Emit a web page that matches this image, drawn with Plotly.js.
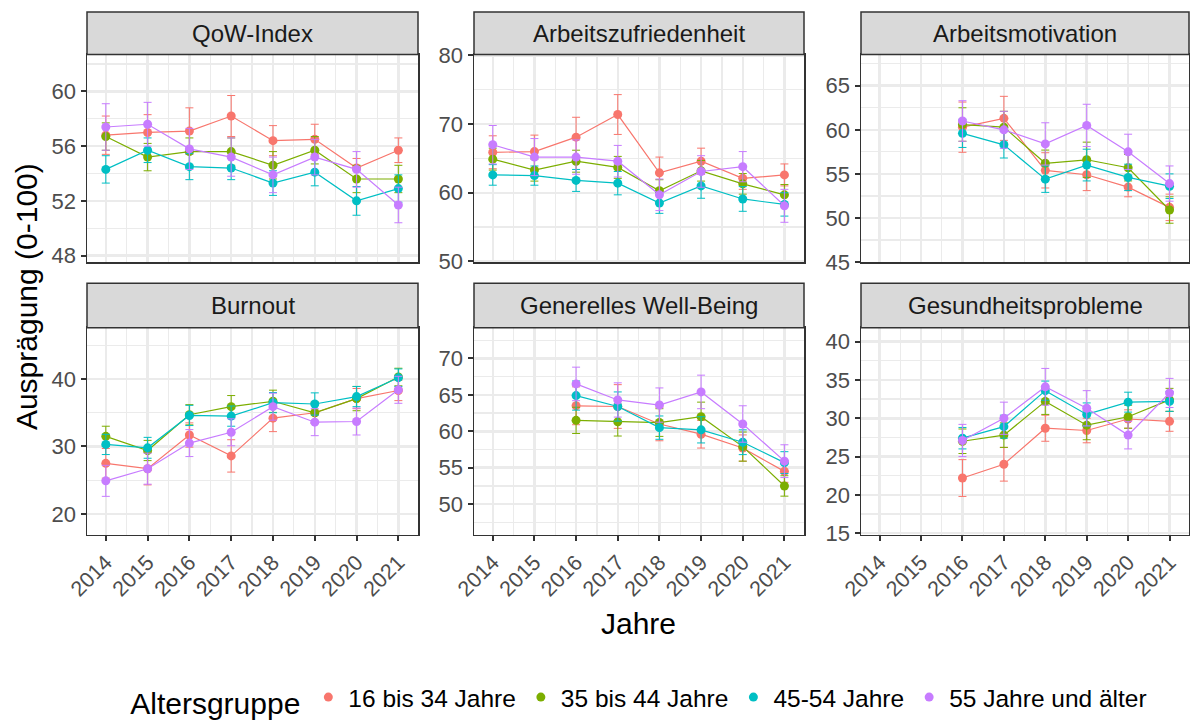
<!DOCTYPE html>
<html>
<head>
<meta charset="utf-8">
<script src="https://cdn.plot.ly/plotly-3.0.1.min.js"></script>
<style>html,body{margin:0;padding:0;background:#fff;}#chart{width:1190px;height:724px;}</style>
</head>
<body>
<div id="chart"></div>
<script>
// ---------- DATA ----------
const groups = ["16 bis 34 Jahre", "35 bis 44 Jahre", "45-54 Jahre", "55 Jahre und älter"];
const colors = ["#F8766D", "#7CAE00", "#00BFC4", "#C77CFF"];
const panelTitles = ["QoW-Index", "Arbeitszufriedenheit", "Arbeitsmotivation", "Burnout", "Generelles Well-Being", "Gesundheitsprobleme"];
const yearsAll = [2014, 2015, 2016, 2017, 2018, 2019, 2020, 2021];
const yearsLate = [2016, 2017, 2018, 2019, 2020, 2021];
const yearTicks = ["2014", "2015", "2016", "2017", "2018", "2019", "2020", "2021"];

// QoW-Index (2014-2021), rows = groups
const qowMean = [
  [56.8, 57.0, 57.1, 58.2, 56.4, 56.5, 54.4, 55.7],
  [56.7, 55.2, 55.6, 55.6, 54.6, 55.7, 53.6, 53.6],
  [54.3, 55.7, 54.5, 54.4, 53.3, 54.1, 52.0, 52.9],
  [57.4, 57.6, 55.8, 55.2, 53.9, 55.2, 54.3, 51.7]
];
const qowErr = [
  [1.4, 1.3, 1.7, 1.5, 1.1, 1.1, 0.7, 0.9],
  [1.0, 1.0, 1.0, 1.0, 1.0, 1.0, 1.0, 1.0],
  [1.0, 0.9, 0.95, 0.85, 0.9, 1.0, 1.05, 1.0],
  [1.7, 1.6, 1.5, 1.4, 1.3, 1.3, 1.3, 1.3]
];
// Arbeitszufriedenheit (2014-2021)
const azMean = [
  [65.9, 66.0, 68.1, 71.4, 62.9, 64.6, 62.1, 62.6],
  [64.9, 63.3, 64.6, 63.7, 60.3, 63.2, 61.3, 59.7],
  [62.6, 62.5, 61.8, 61.4, 58.5, 61.0, 59.1, 58.3],
  [67.0, 65.2, 65.2, 64.6, 59.7, 63.1, 63.8, 58.1]
];
const azErr = [
  [2.4, 2.4, 2.9, 2.9, 2.3, 1.9, 1.6, 1.6],
  [1.6, 1.6, 1.6, 1.6, 1.6, 1.5, 1.5, 1.5],
  [1.5, 1.4, 1.6, 1.7, 1.5, 1.8, 1.8, 1.7],
  [2.8, 2.7, 2.5, 2.3, 2.3, 2.3, 2.2, 2.4]
];
// Arbeitsmotivation (2016-2021)
const amMean = [
  [60.3, 61.3, 55.4, 54.9, 53.5, 51.2],
  [60.6, 60.3, 56.2, 56.6, 55.7, 50.9],
  [59.6, 58.3, 54.4, 56.0, 54.6, 53.6],
  [61.0, 60.0, 58.4, 60.5, 57.5, 53.9]
];
const amErr = [
  [2.85, 2.5, 2.0, 1.8, 1.1, 1.5],
  [1.9, 1.8, 1.5, 2.0, 1.5, 1.5],
  [1.6, 1.5, 1.5, 1.8, 1.5, 1.4],
  [2.3, 2.1, 2.4, 2.4, 2.0, 2.0]
];
// Burnout (2014-2021)
const boMean = [
  [27.5, 26.7, 31.7, 28.6, 34.2, 35.0, 37.1, 38.3],
  [31.5, 29.4, 34.7, 35.9, 36.7, 35.0, 37.1, 40.3],
  [30.3, 29.8, 34.6, 34.5, 36.5, 36.3, 37.4, 40.2],
  [24.9, 26.7, 30.5, 32.1, 35.9, 33.6, 33.7, 38.4]
];
const boErr = [
  [2.2, 2.4, 1.8, 2.4, 2.0, 1.5, 1.5, 1.5],
  [1.5, 1.5, 1.5, 1.65, 1.65, 1.6, 1.8, 1.3],
  [1.5, 1.55, 1.5, 1.5, 1.5, 1.65, 1.5, 1.3],
  [2.3, 2.3, 2.0, 2.0, 2.0, 2.0, 2.0, 2.0]
];
// Generelles Well-Being (2016-2021)
const wbMean = [
  [63.5, 63.4, 61.0, 59.6, 57.7, 54.5],
  [61.5, 61.3, 61.2, 62.0, 57.9, 52.5],
  [64.9, 63.4, 60.5, 60.2, 58.5, 55.7],
  [66.5, 64.3, 63.6, 65.4, 61.0, 55.9]
];
const wbErr = [
  [2.6, 3.0, 2.3, 1.9, 1.8, 1.5],
  [1.8, 1.95, 1.9, 2.0, 2.0, 1.4],
  [2.0, 2.0, 1.6, 1.8, 1.7, 1.5],
  [2.3, 2.35, 2.35, 2.3, 2.5, 2.25]
];
// Gesundheitsprobleme (2016-2021)
const ghMean = [
  [22.2, 24.0, 28.7, 28.4, 29.9, 29.6],
  [27.0, 27.8, 32.2, 29.1, 30.2, 32.4],
  [27.4, 28.9, 33.6, 30.5, 32.1, 32.2],
  [27.1, 30.0, 34.1, 31.3, 27.8, 33.3]
];
const ghErr = [
  [2.4, 2.2, 1.7, 1.6, 1.2, 1.3],
  [1.6, 1.6, 1.7, 1.9, 1.5, 1.5],
  [1.4, 1.5, 1.25, 1.5, 1.3, 1.3],
  [2.1, 2.1, 2.4, 2.3, 1.8, 1.9]
];

// ---------- PANEL SETUP ----------
const W = 1190, H = 724;
const colPx = [[87, 418], [474, 804], [861, 1189]];
const rowPx = [[55, 265], [331, 540]];
const stripPx = [[12, 55], [286, 331]];

const panels = [
  {x: yearsAll,  m: qowMean, e: qowErr, range: [47.5, 62.7], dtick: 4, tick0: 48},
  {x: yearsAll,  m: azMean,  e: azErr,  range: [49.85, 80.15], dtick: 10, tick0: 50},
  {x: yearsLate, m: amMean,  e: amErr,  range: [44.95, 68.55], dtick: 5, tick0: 45},
  {x: yearsAll,  m: boMean,  e: boErr,  range: [16.9, 47.6], dtick: 10, tick0: 20},
  {x: yearsLate, m: wbMean,  e: wbErr,  range: [45.8, 74.2], dtick: 5, tick0: 50},
  {x: yearsLate, m: ghMean,  e: ghErr,  range: [14.8, 41.8], dtick: 5, tick0: 15}
];

const FONT = "Liberation Sans, Arial, Helvetica, sans-serif";
const traces = [];
const layout = {
  width: W, height: H,
  margin: {l: 0, r: 0, t: 0, b: 0},
  paper_bgcolor: "#ffffff", plot_bgcolor: "#ffffff",
  font: {family: FONT, color: "#000000"},
  showlegend: true,
  legend: {
    orientation: "h", x: 0.538, xanchor: "center", y: 1 - 706 / H, yanchor: "middle",
    title: {text: "Altersgruppe", font: {size: 30, color: "#000000"}, side: "left"},
    font: {size: 24.5, color: "#000000"}, itemwidth: 30, bgcolor: "rgba(0,0,0,0)"
  },
  shapes: [], annotations: []
};

panels.forEach((p, i) => {
  const r = Math.floor(i / 3), c = i % 3;
  const sfx = i === 0 ? "" : String(i + 1);
  const xa = "x" + sfx, ya = "y" + sfx;
  const xd = [colPx[c][0] / W, colPx[c][1] / W];
  const yd = [1 - rowPx[r][1] / H, 1 - rowPx[r][0] / H];
  const bottomRow = r === 1;
  layout["xaxis" + sfx] = {
    domain: xd, anchor: ya, range: [2013.55, 2021.47],
    tickmode: "array", tickvals: yearsAll, ticktext: yearTicks,
    showticklabels: bottomRow, ticks: bottomRow ? "outside" : "",
    ticklen: 5, tickwidth: 2, tickcolor: "#333333",
    tickangle: -45, tickfont: {size: 21.5, color: "#4D4D4D"},
    showgrid: true, gridcolor: "#EBEBEB", gridwidth: 2.5,
    minor: {dtick: 0.5, tick0: 2014, showgrid: true, gridcolor: "#EBEBEB", gridwidth: 1.2, ticks: ""},
    showline: true, mirror: true, linecolor: "#333333", linewidth: 1.5,
    zeroline: false, fixedrange: true
  };
  layout["yaxis" + sfx] = {
    domain: yd, anchor: xa, range: p.range,
    tick0: p.tick0, dtick: p.dtick,
    ticks: "outside", ticklen: 5, tickwidth: 2, tickcolor: "#333333",
    tickfont: {size: 22, color: "#4D4D4D"},
    showgrid: true, gridcolor: "#EBEBEB", gridwidth: 2.5,
    minor: {dtick: p.dtick / 2, tick0: p.tick0, showgrid: true, gridcolor: "#EBEBEB", gridwidth: 1.2, ticks: ""},
    showline: true, mirror: true, linecolor: "#333333", linewidth: 1.5,
    zeroline: false, fixedrange: true
  };
  // strip
  layout.shapes.push({
    type: "rect", xref: "paper", yref: "paper",
    x0: xd[0], x1: xd[1], y0: 1 - stripPx[r][1] / H, y1: 1 - stripPx[r][0] / H,
    fillcolor: "#D9D9D9", line: {color: "#333333", width: 1.5}, layer: "above"
  });
  layout.annotations.push({
    xref: "paper", yref: "paper", x: (xd[0] + xd[1]) / 2,
    y: 1 - (stripPx[r][0] + stripPx[r][1]) / 2 / H,
    xanchor: "center", yanchor: "middle", showarrow: false,
    text: panelTitles[i], font: {size: 24, color: "#1A1A1A"}
  });
  groups.forEach((g, k) => {
    traces.push({
      type: "scatter", mode: "lines+markers", name: g,
      x: p.x, y: p.m[k], xaxis: xa, yaxis: ya,
      line: {color: colors[k], width: 1.2},
      marker: {color: colors[k], size: 9},
      error_y: {type: "data", array: p.e[k], visible: true, color: colors[k], thickness: 1, width: 4},
      showlegend: false, hoverinfo: "skip"
    });
  });
});

// legend entries (dots only)
groups.forEach((g, k) => {
  traces.push({
    type: "scatter", mode: "markers", name: g,
    x: [null], y: [null], xaxis: "x", yaxis: "y",
    marker: {color: colors[k], size: 9}, showlegend: true, hoverinfo: "skip"
  });
});

// axis titles
layout.annotations.push({
  xref: "paper", yref: "paper", x: 26 / W, y: 1 - 300 / H,
  xanchor: "center", yanchor: "middle", showarrow: false, textangle: -90,
  text: "Ausprägung (0-100)", font: {size: 30, color: "#000000"}
});
layout.annotations.push({
  xref: "paper", yref: "paper", x: 638 / W, y: 1 - 630 / H,
  xanchor: "center", yanchor: "middle", showarrow: false,
  text: "Jahre", font: {size: 30, color: "#000000"}
});

Plotly.newPlot("chart", traces, layout, {displayModeBar: false, staticPlot: true});
</script>
</body>
</html>
